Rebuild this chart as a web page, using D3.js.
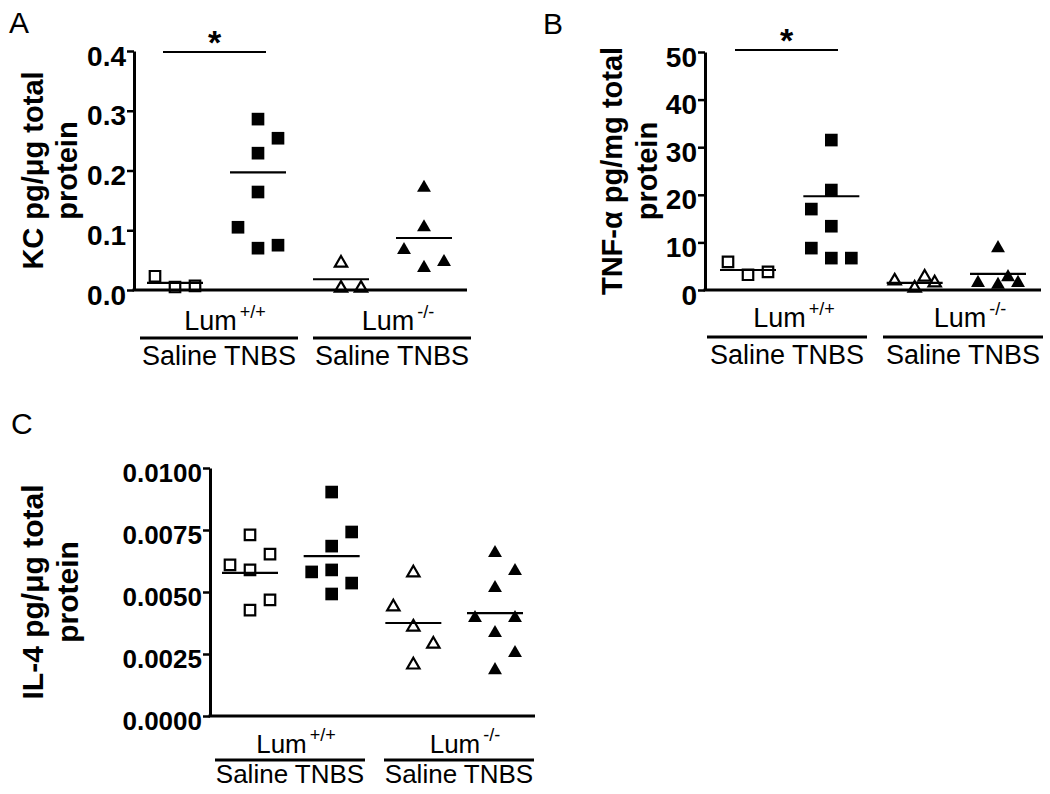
<!DOCTYPE html>
<html>
<head>
<meta charset="utf-8">
<script src="https://cdn.jsdelivr.net/npm/d3@7"></script>
<style>
  html, body { margin: 0; padding: 0; background: #fff; }
  svg { display: block; }
</style>
</head>
<body>
<svg id="chart" width="1050" height="794"></svg>
<script>
// ---------------- DATA ----------------
const groups = ["Saline Lum+/+", "TNBS Lum+/+", "Saline Lum-/-", "TNBS Lum-/-"];
const genotypeLabels = [{base: "Lum", sup: "+/+"}, {base: "Lum", sup: "-/-"}];
const treatmentLabel = "Saline TNBS";

// Panel A: KC pg/µg total protein
const kcSalineWT = [0.023, 0.005, 0.007];
const kcSalineWTSlot = [-1, 0, 1];
const kcTnbsWT = [0.286, 0.254, 0.229, 0.164, 0.105, 0.070, 0.075];
const kcTnbsWTSlot = [0, 1, 0, 0, -1, 0, 1];
const kcSalineKO = [0.045, 0.003, 0.003];
const kcSalineKOSlot = [0, 0, 1];
const kcTnbsKO = [0.171, 0.105, 0.067, 0.047, 0.037];
const kcTnbsKOSlot = [0, 0, -1, 1, 0];
const kcMeans = [0.012, 0.197, 0.018, 0.087];
const kcTicks = [0.0, 0.1, 0.2, 0.3, 0.4];

// Panel B: TNF-α pg/mg total protein
const tnfSalineWT = [5.9, 3.2, 3.8];
const tnfSalineWTSlot = [-1, 0, 1];
const tnfTnbsWT = [31.5, 21.0, 17.0, 13.4, 8.8, 6.7, 6.7];
const tnfTnbsWTSlot = [0, 0, -1, 0, -1, 0, 1];
const tnfSalineKO = [1.9, 0.4, 2.7, 1.5];
const tnfSalineKOSlot = [-1, 0, 0.5, 1];
const tnfTnbsKO = [8.8, 1.5, 1.1, 2.7, 1.5];
const tnfTnbsKOSlot = [0, -1, 0, 0.5, 1];
const tnfMeans = [4.2, 19.7, 1.5, 3.4];
const tnfTicks = [0, 10, 20, 30, 40, 50];

// Panel C: IL-4 pg/µg total protein
const il4SalineWT = [0.0073, 0.00609, 0.00589, 0.00653, 0.00427, 0.00468];
const il4SalineWTSlot = [0, -1, 0, 1, 0, 1];
const il4TnbsWT = [0.00903, 0.00742, 0.00685, 0.00581, 0.00589, 0.00536, 0.00492];
const il4TnbsWTSlot = [0, 1, 0, -1, 0, 1, 0];
const il4SalineKO = [0.00577, 0.0044, 0.00359, 0.0029, 0.00206];
const il4SalineKOSlot = [0, -1, 0, 1, 0];
const il4TnbsKO = [0.00657, 0.00585, 0.00516, 0.00395, 0.00395, 0.00335, 0.00254, 0.00185];
const il4TnbsKOSlot = [0, 1, 0, -1, 1, 0, 1, 0];
const il4Means = [0.00577, 0.00645, 0.00375, 0.00415];
const il4Ticks = [0.0, 0.0025, 0.005, 0.0075, 0.01];

// ---------------- DRAWING ----------------
const svg = d3.select("#chart");
const FONT = "'Liberation Sans', Arial, Helvetica, sans-serif";

function buildSeries(vals, slots) {
  return vals.map((v, i) => ({v, slot: slots[i]}));
}

function drawPanel(cfg) {
  const g = svg.append("g");
  const y = d3.scaleLinear().domain([0, cfg.max]).range([cfg.yBot, cfg.yTop]);
  const x = d3.scalePoint().domain(groups).range(cfg.gx);
  const slotW = 20;

  // panel letter
  g.append("text").attr("x", cfg.letterX).attr("y", cfg.letterY)
    .attr("font-family", FONT).attr("font-size", 30).text(cfg.letter);

  // y axis
  const ax = g.append("g").attr("transform", `translate(${cfg.x0},0)`)
    .call(d3.axisLeft(y).tickValues(cfg.ticks).tickFormat(cfg.fmt)
      .tickSize(7).tickSizeOuter(0).tickPadding(1));
  ax.select(".domain").attr("stroke", "#000").attr("stroke-width", 3);
  ax.selectAll(".tick line").attr("stroke", "#000").attr("stroke-width", 2.5);
  ax.selectAll(".tick text").attr("font-family", FONT).attr("font-weight", "bold")
    .attr("font-size", cfg.tickSize).attr("fill", "#000").attr("dy", "0.5em");

  // x axis baseline
  g.append("line").attr("x1", cfg.x0 - 1.5).attr("x2", cfg.x1)
    .attr("y1", y(0)).attr("y2", y(0)).attr("stroke", "#000").attr("stroke-width", 3);

  // y label (two lines, rotated)
  const cy = (cfg.yTop + cfg.yBot) / 2;
  cfg.ylabel.forEach((t, i) => {
    g.append("text").attr("transform", `translate(${cfg.labelX[i]},${cy}) rotate(-90)`)
      .attr("text-anchor", "middle").attr("font-family", FONT).attr("font-weight", "bold")
      .attr("font-size", cfg.labelSize).text(t);
  });

  // points
  const shapes = [
    {sym: d3.symbolSquare, size: 110, fill: "none", stroke: "#000"},
    {sym: d3.symbolSquare, size: 160, fill: "#000", stroke: "none"},
    {sym: d3.symbolTriangle, size: 66, fill: "none", stroke: "#000"},
    {sym: d3.symbolTriangle, size: 84, fill: "#000", stroke: "none"}
  ];
  cfg.series.forEach((s, gi) => {
    const sh = shapes[gi];
    g.selectAll(null).data(s).enter().append("path")
      .attr("d", d3.symbol().type(sh.sym).size(sh.size))
      .attr("transform", d => `translate(${x(groups[gi]) + d.slot * slotW},${y(d.v)})`)
      .attr("fill", sh.fill).attr("stroke", sh.stroke).attr("stroke-width", 2.2);
  });

  // mean lines
  g.selectAll(null).data(cfg.means).enter().append("line")
    .attr("x1", (d, i) => x(groups[i]) - 28).attr("x2", (d, i) => x(groups[i]) + 28)
    .attr("y1", d => y(d)).attr("y2", d => y(d))
    .attr("stroke", "#000").attr("stroke-width", 2.2);

  // significance bar
  if (cfg.sig) {
    g.append("line").attr("x1", cfg.sig[0]).attr("x2", cfg.sig[1])
      .attr("y1", cfg.sigY).attr("y2", cfg.sigY).attr("stroke", "#000").attr("stroke-width", 2);
    g.append("text").attr("x", (cfg.sig[0] + cfg.sig[1]) / 2).attr("y", cfg.sigY + 2)
      .attr("text-anchor", "middle").attr("font-family", FONT).attr("font-weight", "bold")
      .attr("font-size", 34).text("*");
  }

  // group labels
  cfg.pairCenters.forEach((c, i) => {
    const lab = genotypeLabels[i];
    const t = g.append("text").attr("x", c + cfg.lumShift).attr("y", cfg.lumY)
      .attr("text-anchor", "middle").attr("font-family", FONT).attr("font-size", cfg.grpSize);
    t.append("tspan").text(lab.base);
    t.append("tspan").attr("dx", 3).attr("dy", -12).attr("font-size", 18).text(lab.sup);
    g.append("line").attr("x1", c - cfg.pairHalf).attr("x2", c + cfg.pairHalf)
      .attr("y1", cfg.ulY).attr("y2", cfg.ulY).attr("stroke", "#000").attr("stroke-width", 3);
    g.append("text").attr("x", c).attr("y", cfg.salY).attr("text-anchor", "middle")
      .attr("font-family", FONT).attr("font-size", cfg.grpSize).text(treatmentLabel);
  });
}

drawPanel({
  letter: "A", letterX: 9, letterY: 33,
  x0: 134, x1: 467, yTop: 51, yBot: 290, gx: [175, 424], max: 0.4,
  ticks: kcTicks, fmt: d3.format(".1f"), tickSize: 28,
  ylabel: ["KC pg/\u03bcg total", "protein"], labelX: [43, 77], labelSize: 29,
  series: [buildSeries(kcSalineWT, kcSalineWTSlot), buildSeries(kcTnbsWT, kcTnbsWTSlot),
           buildSeries(kcSalineKO, kcSalineKOSlot), buildSeries(kcTnbsKO, kcTnbsKOSlot)],
  means: kcMeans,
  sig: [163, 266], sigY: 52,
  pairCenters: [219, 392], pairHalf: 79, lumShift: 6, lumY: 330, ulY: 338, salY: 365, grpSize: 27
});

drawPanel({
  letter: "B", letterX: 543, letterY: 34,
  x0: 705, x1: 1041, yTop: 52, yBot: 290, gx: [748, 998], max: 50,
  ticks: tnfTicks, fmt: d3.format("d"), tickSize: 28,
  ylabel: ["TNF-\u03b1 pg/mg total", "protein"], labelX: [622, 657], labelSize: 29,
  series: [buildSeries(tnfSalineWT, tnfSalineWTSlot), buildSeries(tnfTnbsWT, tnfTnbsWTSlot),
           buildSeries(tnfSalineKO, tnfSalineKOSlot), buildSeries(tnfTnbsKO, tnfTnbsKOSlot)],
  means: tnfMeans,
  sig: [735, 838], sigY: 50,
  pairCenters: [787, 963], pairHalf: 80, lumShift: 7, lumY: 327, ulY: 337, salY: 364, grpSize: 27
});

drawPanel({
  letter: "C", letterX: 11, letterY: 434,
  x0: 210, x1: 535, yTop: 468, yBot: 716, gx: [250, 495], max: 0.01,
  ticks: il4Ticks, fmt: d3.format(".4f"), tickSize: 26,
  ylabel: ["IL-4 pg/\u03bcg total", "protein"], labelX: [43, 78], labelSize: 30,
  series: [buildSeries(il4SalineWT, il4SalineWTSlot), buildSeries(il4TnbsWT, il4TnbsWTSlot),
           buildSeries(il4SalineKO, il4SalineKOSlot), buildSeries(il4TnbsKO, il4TnbsKOSlot)],
  means: il4Means,
  sig: null,
  pairCenters: [290, 459], pairHalf: 75, lumShift: 6, lumY: 753, ulY: 760, salY: 783, grpSize: 26
});
</script>
</body>
</html>
